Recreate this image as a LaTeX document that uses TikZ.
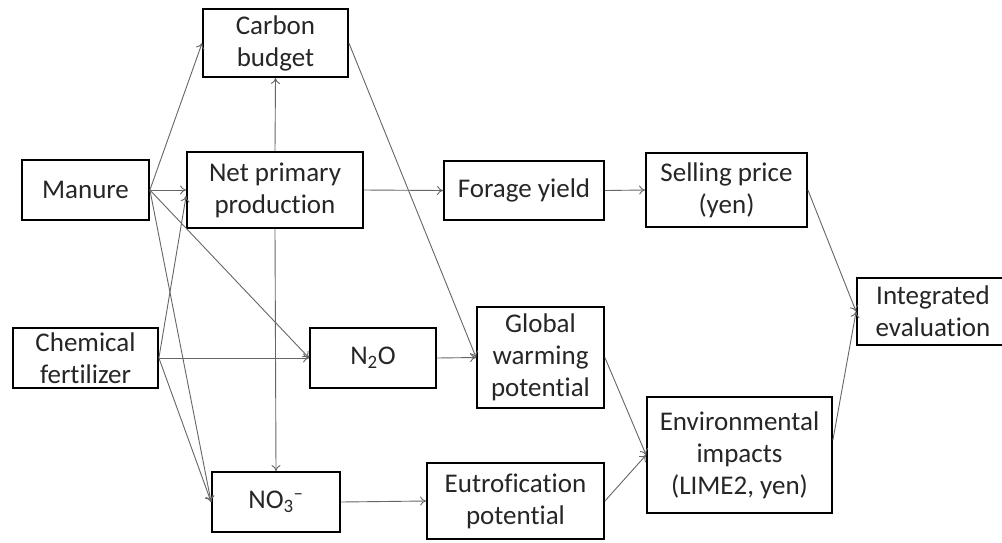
\documentclass[tikz,border=0pt]{standalone}
\usepackage{fontspec}
\setmainfont{Carlito}[Ligatures=NoCommon]
\usetikzlibrary{arrows.meta}
\begin{document}
\begin{tikzpicture}[x=1pt,y=-1pt,
  box/.style={draw=black, line width=1.8pt, align=center, inner sep=0pt,
    font=\fontsize{27}{32}\selectfont, text=black!85},
  link/.style={draw=black!60, line width=0.9pt, -{To[length=6pt,width=9pt]}}]
\fill[white] (0,0) rectangle (1002,542);
\useasboundingbox (0,0) rectangle (1002,542);

\node[box, minimum width=145pt, minimum height=68pt] (carbon) at (275.5,43) {Carbon\\budget};
\node[box, minimum width=127pt, minimum height=60pt] (manure) at (85.5,190) {Manure};
\node[box, minimum width=176pt, minimum height=76pt] (npp) at (275,190) {Net primary\\production};
\node[box, minimum width=145pt, minimum height=60pt] (chem) at (85.5,358) {Chemical\\fertilizer};
\node[box, minimum width=126pt, minimum height=60pt] (n2o) at (373,358) {N\textsubscript{2}O};
\node[box, minimum width=128pt, minimum height=60pt] (no3) at (276,502) {NO\textsubscript{3}\textsuperscript{–}};
\node[box, minimum width=160pt, minimum height=59pt] (forage) at (524,190.5) {Forage yield};
\node[box, minimum width=161pt, minimum height=74pt] (selling) at (726.5,190) {Selling price\\(yen)};
\node[box, minimum width=127pt, minimum height=101pt] (gwp) at (540.5,357.5) {Global\\warming\\potential};
\node[box, minimum width=185pt, minimum height=116pt] (env) at (739.5,455) {Environmental\\impacts\\(LIME2, yen)};
\node[box, minimum width=177pt, minimum height=76pt] (eutro) at (515.5,501) {Eutrofication\\potential};
\node[box, minimum width=152pt, minimum height=67pt] (integ) at (933,311.5) {Integrated\\evaluation};

\draw[link] (manure.east) -- (carbon.west);
\draw[link] (manure.east) -- (npp.west);
\draw[link] (manure.east) -- (n2o.west);
\draw[link] (manure.east) -- (no3.west);
\draw[link] (chem.east) -- ([yshift=-6pt]npp.west);
\draw[link] (chem.east) -- (n2o.west);
\draw[link] (chem.east) -- (no3.west);
\draw[link] (npp.north) -- (carbon.south);
\draw[link] (npp.south) -- (no3.north);
\draw[link] (npp.east) -- (forage.west);
\draw[link] (carbon.east) -- (gwp.west);
\draw[link] (n2o.east) -- (gwp.west);
\draw[link] (forage.east) -- (selling.west);
\draw[link] (selling.east) -- (integ.west);
\draw[link] (gwp.east) -- (env.west);
\draw[link] (eutro.east) -- (env.west);
\draw[link] ([yshift=15pt]env.east) -- (integ.west);
\draw[link] (no3.east) -- (eutro.west);
\end{tikzpicture}
\end{document}
